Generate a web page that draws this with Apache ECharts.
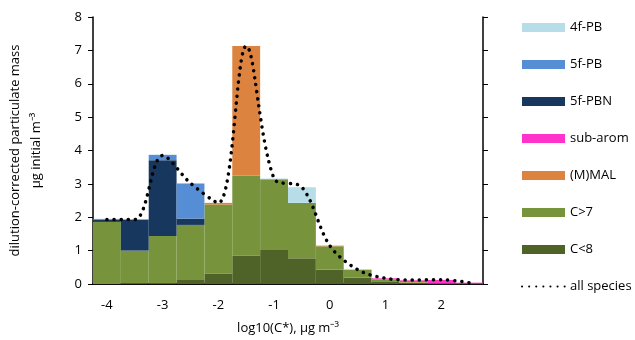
<!DOCTYPE html>
<html>
<head>
<meta charset="utf-8">
<script src="https://cdn.jsdelivr.net/npm/echarts@6/dist/echarts.min.js"></script>
<style>
  html, body { margin: 0; padding: 0; background: #fff; }
  #chart { width: 635px; height: 340px; }
</style>
</head>
<body>
<div id="chart"></div>
<script>
// log10(C*) bins, 0.5 wide
const bins = ["-4", "-3.5", "-3", "-2.5", "-2", "-1.5", "-1", "-0.5", "0", "0.5", "1", "1.5", "2", "2.5"];

// stacked from the bottom up
const cLess8   = [0, 0.03, 0.03, 0.12, 0.31, 0.85, 1.02, 0.77, 0.43, 0.19, 0.08, 0.02, 0.01, 0];
const cMore7   = [1.86, 0.97, 1.41, 1.65, 2.07, 2.40, 2.12, 1.66, 0.70, 0.24, 0.06, 0.03, 0.02, 0.01];
const mmal     = [0, 0, 0, 0, 0.05, 3.88, 0, 0, 0.02, 0, 0, 0.01, 0, 0];
const subArom  = [0, 0, 0, 0, 0, 0, 0, 0, 0, 0, 0.03, 0.05, 0.09, 0.03];
const pbn5f    = [0.07, 0.93, 2.27, 0.19, 0, 0, 0, 0, 0, 0, 0, 0, 0, 0];
const pb5f     = [0.02, 0, 0.16, 1.05, 0, 0, 0, 0, 0, 0, 0, 0, 0, 0];
const pb4f     = [0, 0, 0, 0, 0, 0, 0.02, 0.47, 0, 0, 0, 0, 0, 0];
const allSpecies = [1.93, 1.93, 3.85, 3.02, 2.43, 7.13, 3.16, 2.9, 1.15, 0.43, 0.17, 0.12, 0.13, 0.04];

const yTicks = { min: 0, max: 8, step: 1 };

const font = "Open Sans";
const fs = 13;
const txt = "#000";

function barSeries(name, data, color) {
  return {
    name: name,
    type: "bar",
    stack: "total",
    data: data,
    barWidth: "100%",
    itemStyle: { color: color },
    emphasis: { disabled: true }
  };
}

let chart = echarts.init(document.getElementById("chart"));
chart.setOption({
  animation: false,
  textStyle: { fontFamily: font },
  grid: { left: 93, right: 152, top: 17, bottom: 56, containLabel: false, outerBoundsMode: "none" },
  legend: {
    orient: "vertical",
    left: 516,
    top: 16,
    itemWidth: 43,
    itemHeight: 9,
    itemGap: 24,
    textStyle: { fontFamily: font, fontSize: fs, color: txt },
    data: [
      { name: "4f-PB", icon: "rect" },
      { name: "5f-PB", icon: "rect" },
      { name: "5f-PBN", icon: "rect" },
      { name: "sub-arom", icon: "rect" },
      { name: "(M)MAL", icon: "rect" },
      { name: "C>7", icon: "rect" },
      { name: "C<8", icon: "rect" },
      { name: "all species", itemStyle: { opacity: 0 } }
    ]
  },
  xAxis: [
    {
      type: "category",
      data: bins,
      boundaryGap: true,
      name: "log10(C*), μg m⁻³",
      nameLocation: "middle",
      nameGap: 38,
      nameTextStyle: { fontFamily: font, fontSize: fs, color: txt },
      axisLine: { lineStyle: { color: "#000", width: 1.5 } },
      axisTick: { interval: 0, length: 5, lineStyle: { color: "#000", width: 1 } },
      axisLabel: { interval: 1, margin: 15, fontSize: fs, color: txt, fontFamily: font }
    },
    {
      type: "category",
      data: bins,
      position: "top",
      axisLine: { lineStyle: { color: "#000", width: 1.5 } },
      axisTick: { show: false },
      axisLabel: { show: false }
    }
  ],
  yAxis: [
    {
      type: "value",
      min: yTicks.min,
      max: yTicks.max,
      interval: yTicks.step,
      name: "dilution-corrected particulate mass\nμg initial m⁻³",
      nameLocation: "middle",
      nameRotate: 90,
      nameGap: 46,
      nameTextStyle: { fontFamily: font, fontSize: fs, color: txt, lineHeight: 21, align: "center" },
      splitLine: { show: false },
      axisLine: { show: true, lineStyle: { color: "#000", width: 1.5 } },
      axisTick: { show: true, length: 5, lineStyle: { color: "#000", width: 1 } },
      axisLabel: { margin: 11, fontSize: fs, color: txt, fontFamily: font }
    },
    {
      type: "value",
      position: "right",
      min: yTicks.min,
      max: yTicks.max,
      interval: yTicks.step,
      splitLine: { show: false },
      axisLine: { show: true, lineStyle: { color: "#000", width: 1.5 } },
      axisTick: { show: true, length: 5, lineStyle: { color: "#000", width: 1 } },
      axisLabel: { show: false }
    }
  ],
  series: [
    barSeries("C<8", cLess8, "#4f6228"),
    barSeries("C>7", cMore7, "#77933c"),
    barSeries("(M)MAL", mmal, "#dd8340"),
    barSeries("sub-arom", subArom, "#ff33cc"),
    barSeries("5f-PBN", pbn5f, "#17375e"),
    barSeries("5f-PB", pb5f, "#558ed5"),
    barSeries("4f-PB", pb4f, "#b7dee8"),
    {
      name: "all species",
      type: "line",
      data: allSpecies,
      smooth: 0.33,
      symbol: "none",
      lineStyle: { color: "#000", width: 3.5, type: [0.1, 7], cap: "round" },
      itemStyle: { color: "#000" },
      z: 5
    }
  ]
});
</script>
</body>
</html>
